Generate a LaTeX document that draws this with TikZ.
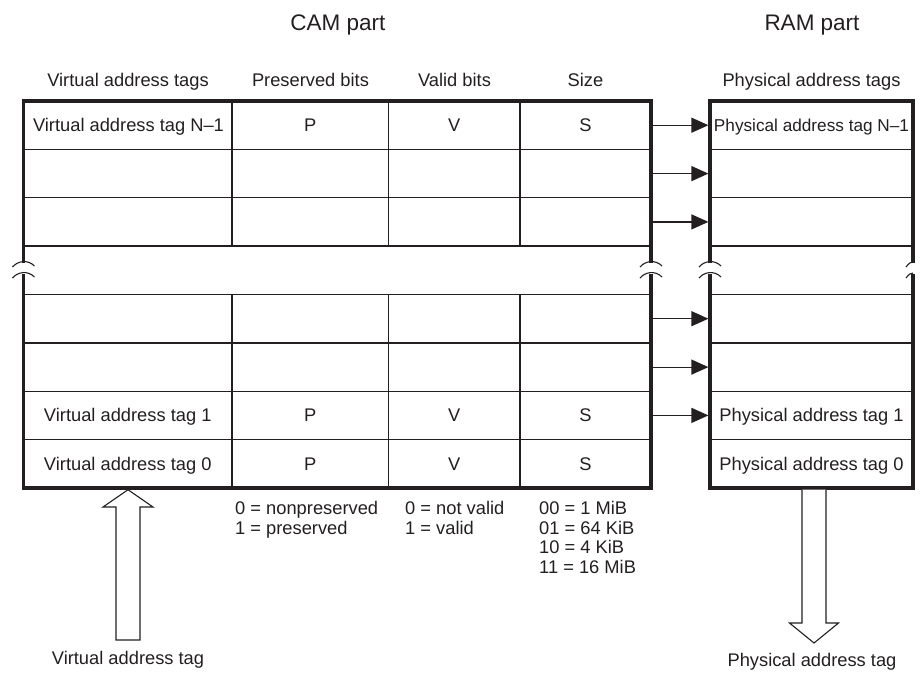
\documentclass[tikz,border=0pt]{standalone}
\usepackage{fontspec}
\setmainfont{Liberation Sans}
\usetikzlibrary{arrows.meta}
\definecolor{ink}{RGB}{35,31,32}
\begin{document}
\begin{tikzpicture}[x=1pt,y=-1pt,
  txt/.style={font=\fontsize{18.3}{20}\selectfont, inner sep=0pt, text=ink, anchor=base},
  big/.style={font=\fontsize{22.5}{26}\selectfont, inner sep=0pt, text=ink, anchor=base},
  note/.style={font=\fontsize{18.3}{20}\selectfont, inner sep=0pt, text=ink, anchor=base west},
  border/.style={draw=ink, line width=3.2pt},
  grid/.style={draw=ink, line width=1.4pt},
  wave/.style={draw=ink, line width=1.1pt},
  link/.style={draw=ink, line width=1.2pt, -{Triangle[length=17pt,width=15pt]}},
  fat/.style={draw=ink, line width=1.1pt, fill=white, line join=miter}
]
\useasboundingbox (0,0) rectangle (920,673);
\clip (0,0) rectangle (920,673);
% column x positions
\def\xa{23.5}\def\xb{232}\def\xc{388.5}\def\xd{520}\def\xe{651}
\def\xl{710}\def\xr{913}
% row lines
\def\ra{101}\def\rb{149.4}\def\rc{197.75}\def\rd{246.1}\def\re{294.5}
\def\rf{342.9}\def\rg{391.25}\def\rh{439.6}\def\ri{488}
\def\ga{263}\def\gb{274}
% internal horizontal lines
\foreach \y in {\rb,\rc,\rd,\re,\rf,\rg,\rh}{
  \draw[grid] (\xa,\y) -- (\xe,\y);
  \draw[grid] (\xl,\y) -- (\xr,\y);
}
% internal vertical lines
\foreach \x in {\xb,\xc,\xd}{
  \draw[grid] (\x,\ra) -- (\x,\rd);
  \draw[grid] (\x,\re) -- (\x,\ri);
}
% outer borders with break
\draw[border] (\xa,\ga) -- (\xa,\ra) -- (\xe,\ra) -- (\xe,\ga);
\draw[border] (\xa,\gb) -- (\xa,\ri) -- (\xe,\ri) -- (\xe,\gb);
\draw[border] (\xl,\ga) -- (\xl,\ra) -- (\xr,\ra) -- (\xr,\ga);
\draw[border] (\xl,\gb) -- (\xl,\ri) -- (\xr,\ri) -- (\xr,\gb);
% break waves
\foreach \x in {\xa,\xe,\xl}{
  \foreach \y in {\ga,\gb}{
    \draw[wave] (\x-11,\y+4) .. controls (\x-6,\y-2) and (\x+4,\y-4) .. (\x+11,\y+3);
  }
}
\foreach \y in {\ga,\gb}{
  \draw[wave] (\xr-7,\y+4) .. controls (\xr-4,\y) and (\xr-2,\y-1) .. (\xr,\y-1);
}
% headers
\node[big] (cam) at (338,30) {CAM part};
\node[big] (ram) at (812,30) {RAM part};
\node[txt] (h1) at (128,86) {Virtual address tags};
\node[txt] (h2) at (310.5,86) {Preserved bits};
\node[txt] (h3) at (454.5,86) {Valid bits};
\node[txt] (h4) at (585.5,86) {Size};
\node[txt] (h5) at (811.5,86) {Physical address tags};
% cell texts
\node[txt] (v1) at (128.5,131.7) {Virtual address tag N–1};
\node[txt] (p1) at (310.25,131.7) {P};
\node[txt] (q1) at (454.25,131.7) {V};
\node[txt] (s1) at (585.5,131.7) {S};
\node[txt] (v7) at (127.75,421.9) {Virtual address tag 1};
\node[txt] (p7) at (310.25,421.9) {P};
\node[txt] (q7) at (454.25,421.9) {V};
\node[txt] (s7) at (585.5,421.9) {S};
\node[txt] (v8) at (127.75,470.3) {Virtual address tag 0};
\node[txt] (p8) at (310.25,470.3) {P};
\node[txt] (q8) at (454.25,470.3) {V};
\node[txt] (s8) at (585.5,470.3) {S};
\node[txt, font=\fontsize{17.2}{20}\selectfont] (f1) at (811.5,131.3) {Physical address tag N–1};
\node[txt] (f7) at (811.5,421.9) {Physical address tag 1};
\node[txt] (f8) at (811.5,470.3) {Physical address tag 0};
% arrows CAM -> RAM
\foreach \y [count=\i] in {125.2,173.6,221.9,318.7,367.1,415.4}{
  \coordinate (ca\i) at (\xe+1.6,\y);
  \coordinate (ra\i) at (\xl-1.6,\y);
  \draw[link] (ca\i) -- (ra\i);
}
% notes
\node[note] (n1) at (235,514.5) {0 = nonpreserved};
\node[note] (n2) at (235,534.2) {1 = preserved};
\node[note] (n3) at (405,514.5) {0 = not valid};
\node[note] (n4) at (405,534.2) {1 = valid};
\node[note] (n5) at (539,514.5) {00 = 1 MiB};
\node[note] (n6) at (539,534.2) {01 = 64 KiB};
\node[note] (n7) at (539,553.9) {10 = 4 KiB};
\node[note] (n8) at (539,573.6) {11 = 16 MiB};
% big hollow arrows
\draw[fat] (116,640) -- (116,507) -- (103,507) -- (128,489.7) -- (153,507) -- (140,507) -- (140,640) -- cycle;
\draw[fat] (802,489.7) -- (802,623) -- (789.5,623) -- (814,643) -- (838.5,623) -- (826,623) -- (826,489.7);
\node[txt] (lv) at (128,664) {Virtual address tag};
\node[txt] (lp) at (812,666) {Physical address tag};
\end{tikzpicture}
\end{document}
